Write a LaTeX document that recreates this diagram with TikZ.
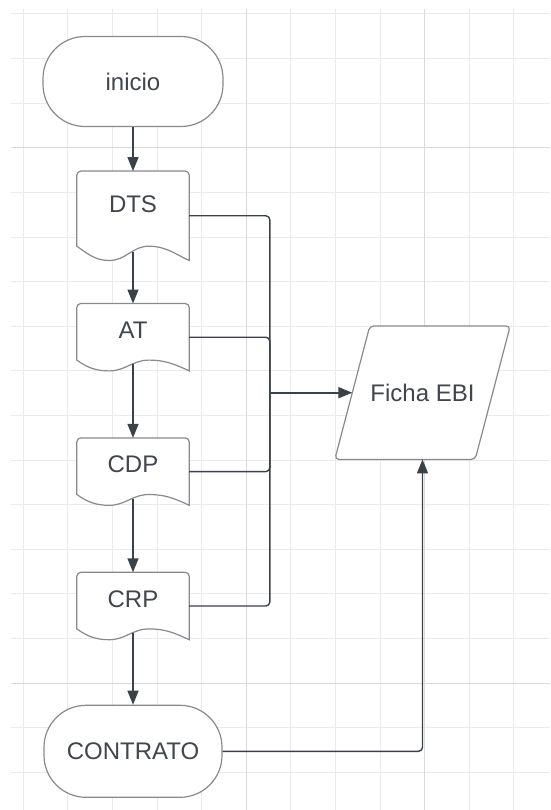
\documentclass[tikz,border=0pt]{standalone}
\usepackage{fontspec}
\setmainfont{Liberation Sans}
\usepackage{tikz}
\usetikzlibrary{positioning,arrows.meta,shapes.geometric,calc,backgrounds}
\definecolor{ink}{HTML}{3B4149}
\definecolor{rim}{HTML}{868A90}
\definecolor{txt}{HTML}{41464D}
\definecolor{gridc}{HTML}{EBEBEB}
\definecolor{gridm}{HTML}{DADADA}

\begin{document}
\begin{tikzpicture}[x=1pt, y=1pt,
  every node/.style={font=\fontsize{24}{28}\selectfont, text=txt},
  startend/.style={draw=rim, fill=white, line width=1.2pt, rectangle, rounded corners=42pt,
                   minimum width=180pt, minimum height=90pt},
  docbox/.style={inner sep=0pt, minimum width=112pt, minimum height=67pt,
                 text height=17pt, text depth=15pt},
  docline/.style={draw=rim, fill=white, line width=1.2pt},
  io/.style={inner sep=0pt, minimum width=175pt, minimum height=133pt},
  ioline/.style={draw=rim, fill=white, line width=1.2pt, rounded corners=4pt},
  line/.style={draw=ink, line width=1.4pt, rounded corners=4pt},
  arr/.style={line, -{Triangle[length=14pt,width=11pt]}}
]
\useasboundingbox (0,0) rectangle (550,-810);
\node[startend] (ini) at (133,-81.5) {inicio};
\node[docbox, below=44pt of ini, minimum height=89pt, text depth=23pt] (dts) {DTS};
\node[docbox, below=43pt of dts] (at) {AT};
\node[docbox, below=67pt of at] (cdp) {CDP};
\node[docbox, below=67pt of cdp] (crp) {CRP};
\node[startend, below=65pt of crp, minimum width=178pt, minimum height=92pt] (ctr) {CONTRATO};
\node[io] (ficha) at (422.5,-392.7) {Ficha EBI};
\coordinate (bus) at ($(ficha.west)+(-65,0)$);
\coordinate (fin) at ($(ficha.west)+(17.5,0)$);

% grid paper and shape outlines behind the text
\begin{scope}[on background layer]
  \foreach \i in {0,...,11}
    \draw[gridc, line width=1pt] (23.3+44.6*\i,-9) -- ++(0,-801);
  \foreach \j in {0,...,17}
    \draw[gridc, line width=1pt] (11,-14-44.6*\j) -- ++(539,0);
  \foreach \i in {5,9}
    \draw[gridm, line width=1pt] (23.3+44.6*\i,-9) -- ++(0,-801);
  \foreach \j in {3,15}
    \draw[gridm, line width=1pt] (11,-14-44.6*\j) -- ++(539,0);
  \foreach \nm in {dts,at,cdp,crp}
    \draw[docline] let \p1=(\nm.north west), \p2=(\nm.south east),
                       \n1={\x2-\x1}, \n2={\y1-\y2} in
      (\x1+0.5*\n1,\y2+0.1*\n2) coordinate (\nm-b)
      (\x2,\y2) [rounded corners=4pt] -- (\x2,\y1) -- (\x1,\y1) [sharp corners]
      -- (\x1,\y2+0.16*\n2)
      to[out=-35,in=180] (\x1+0.29*\n1,\y2)
      to[out=0,in=180] (\x1+0.64*\n1,\y2+0.16*\n2)
      to[out=0,in=155] cycle;
  \draw[ioline] (ficha.south west) -- ($(ficha.north west)+(35,0)$)
    -- (ficha.north east) -- ($(ficha.south east)+(-35,0)$) -- cycle;
\end{scope}

\draw[arr] (ini) -- (dts);
\draw[arr] (dts-b) -- (at);
\draw[arr] (at-b) -- (cdp);
\draw[arr] (cdp-b) -- (crp);
\draw[arr] (crp-b) -- (ctr);
\foreach \nm in {dts,at,cdp,crp}
  \draw[line] (\nm.east) -| (bus);
\draw[arr, line width=2pt] (bus) -- (fin);
\draw[arr] (ctr.east) -| (ficha);
\end{tikzpicture}
\end{document}
